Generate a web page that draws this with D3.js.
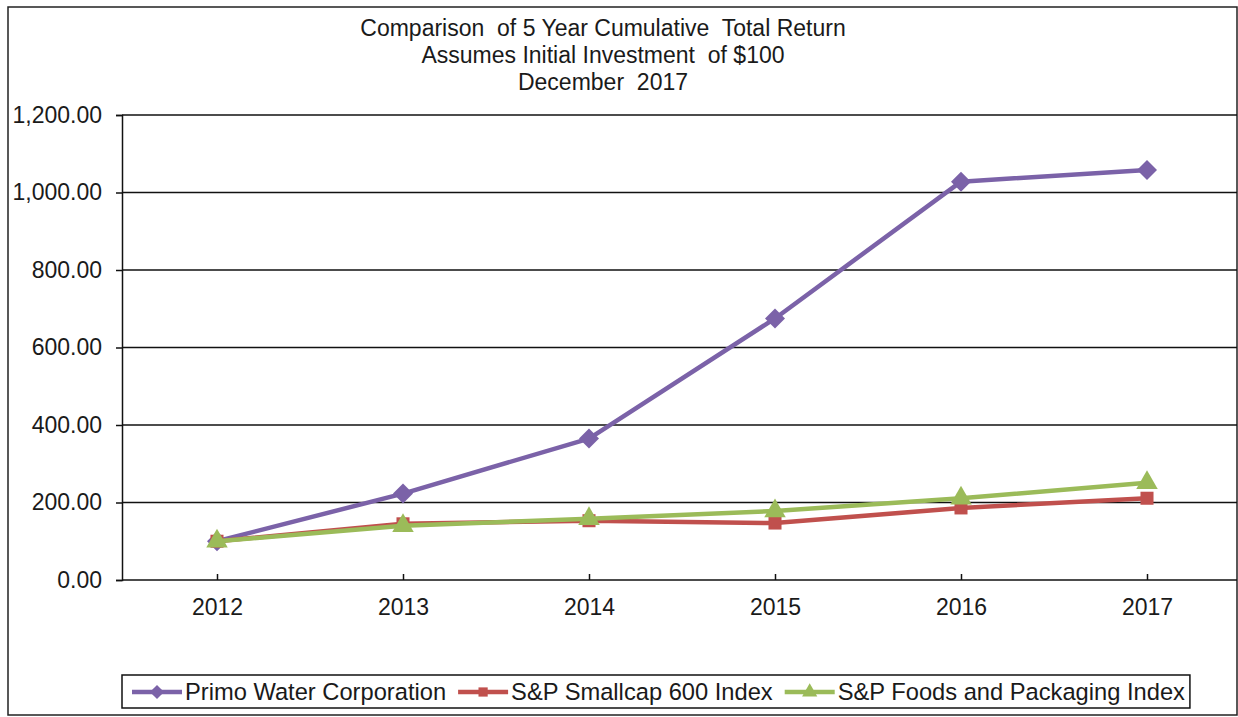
<!DOCTYPE html>
<meta charset="utf-8">
<style>
    body { margin: 0; background: #fff; }
    text { font-family: "Liberation Sans", Arial, sans-serif; fill: #1a1a1a; }
    .grid line { stroke: #111; stroke-width: 1.5px; }
    .series path.line { fill: none; stroke-width: 4.5px; stroke-linejoin: round; }
</style>
<svg width="1238" height="717"></svg>
<script src="https://d3js.org/d3.v7.min.js"></script>
<script>
    var years = ["2012", "2013", "2014", "2015", "2016", "2017"];
    var seriesNames = ["Primo Water Corporation", "S&P Smallcap 600 Index", "S&P Foods and Packaging Index"];
    var primo = [100, 223, 365, 675, 1028, 1058];
    var smallcap = [100, 145, 153, 147, 186, 211];
    var foods = [100, 140, 158, 178, 211, 251];
    var yTicks = [0, 200, 400, 600, 800, 1000, 1200];
    var titleLines = ["Comparison  of 5 Year Cumulative  Total Return", "Assumes Initial Investment  of $100", "December  2017"];

    var colors = ["#7b62a8", "#c0504d", "#9bbb59"];
    // diamond = square turned 45 degrees
    var shapes = [d3.symbolSquare, d3.symbolSquare, d3.symbolTriangle];
    var turn = [45, 0, 0];
    var markSize = [200, 170, 200];

    var svg = d3.select("svg"),
        plotLeft = 122, plotRight = 1237, plotTop = 115, plotBottom = 580;

    // outer frame
    svg.append("rect")
        .attr("x", 8).attr("y", 7)
        .attr("width", 1229).attr("height", 708)
        .attr("fill", "none").attr("stroke", "#222").attr("stroke-width", 1.5);

    var x = d3.scalePoint().domain(years).range([124, 1240]).padding(0.5);
    var y = d3.scaleLinear().domain([0, 1200]).range([plotBottom, plotTop]);

    // title
    svg.append("g").selectAll("text")
        .data(titleLines)
        .enter().append("text")
        .attr("x", 603)
        .attr("y", function (d, i) { return 36 + i * 27; })
        .attr("text-anchor", "middle")
        .attr("font-size", 23)
        .style("white-space", "pre")
        .text(function (d) { return d; });

    // horizontal gridlines
    svg.append("g").attr("class", "grid")
        .selectAll("line")
        .data(yTicks)
        .enter().append("line")
        .attr("x1", plotLeft).attr("x2", plotRight)
        .attr("y1", y).attr("y2", y);

    // y axis
    var yAxis = svg.append("g")
        .attr("transform", "translate(" + plotLeft + ",0)")
        .call(d3.axisLeft(y).tickValues(yTicks).tickSize(6).tickPadding(14).tickFormat(d3.format(",.2f")));
    yAxis.select(".domain").attr("stroke", "#111").attr("stroke-width", 1.5);
    yAxis.selectAll(".tick line").attr("stroke", "#111").attr("stroke-width", 1.5);
    yAxis.selectAll("text").attr("font-size", 23).attr("font-family", "Liberation Sans, Arial, sans-serif").attr("fill", "#1a1a1a");

    // x axis (ticks pointing up into the plot)
    var xAxis = svg.append("g")
        .attr("transform", "translate(0," + plotBottom + ")")
        .call(d3.axisBottom(x).tickSize(-6).tickPadding(19));
    xAxis.select(".domain").remove();
    xAxis.selectAll(".tick line").attr("stroke", "#111").attr("stroke-width", 1.5);
    xAxis.selectAll("text").attr("font-size", 23).attr("font-family", "Liberation Sans, Arial, sans-serif").attr("fill", "#1a1a1a");

    // series
    var data = [primo, smallcap, foods];
    var line = d3.line()
        .x(function (d, i) { return x(years[i]); })
        .y(function (d) { return y(d); });

    var series = svg.append("g").selectAll("g")
        .data(data)
        .enter().append("g")
        .attr("class", "series");

    series.append("path")
        .attr("class", "line")
        .attr("stroke", function (d, i) { return colors[i]; })
        .attr("d", line);

    series.each(function (d, si) {
        d3.select(this).selectAll("path.mark")
            .data(d)
            .enter().append("path")
            .attr("class", "mark")
            .attr("fill", colors[si])
            .attr("transform", function (v, i) {
                return "translate(" + x(years[i]) + "," + y(v) + ")rotate(" + turn[si] + ")";
            })
            .attr("d", d3.symbol().type(shapes[si]).size(markSize[si]));
    });

    // legend
    var legend = svg.append("g");
    var legendBox = legend.append("rect")
        .attr("y", 675).attr("height", 33)
        .attr("fill", "#fff").attr("stroke", "#111").attr("stroke-width", 1.5);

    var lx = 132, ly = 692;
    seriesNames.forEach(function (name, i) {
        var item = legend.append("g");
        item.append("line")
            .attr("x1", lx).attr("x2", lx + 50)
            .attr("y1", ly).attr("y2", ly)
            .attr("stroke", colors[i]).attr("stroke-width", 4.5);
        item.append("path")
            .attr("transform", "translate(" + (lx + 25) + "," + ly + ")rotate(" + turn[i] + ")")
            .attr("fill", colors[i])
            .attr("d", d3.symbol().type(shapes[i]).size(markSize[i] * 0.5));
        var t = item.append("text")
            .attr("x", lx + 53)
            .attr("y", ly + 8)
            .attr("font-size", 23.7)
            .text(name);
        lx = lx + 53 + t.node().getComputedTextLength() + 12;
    });
    legendBox.attr("x", 122).attr("width", lx - 12 + 5 - 122);
</script>
